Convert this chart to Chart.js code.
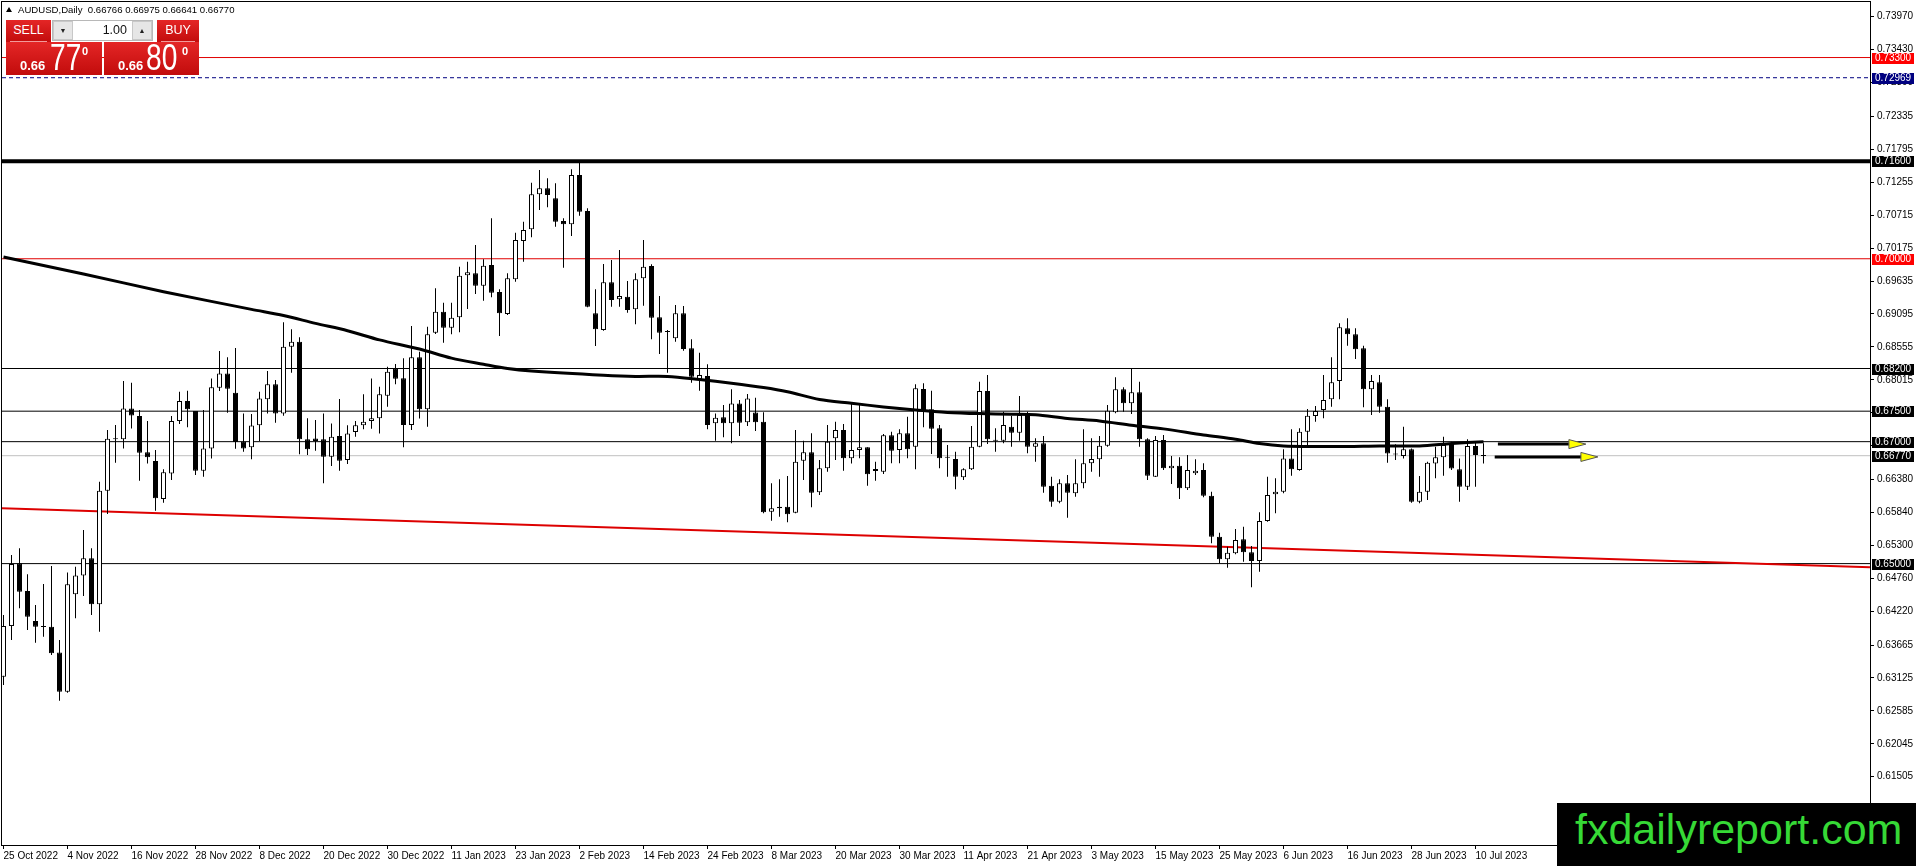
<!doctype html>
<html><head><meta charset="utf-8">
<script src="https://cdn.jsdelivr.net/npm/chart.js@4.4.0/dist/chart.umd.min.js"></script>
<style>
* { margin:0; padding:0; box-sizing:border-box; }
html,body { width:1916px; height:866px; overflow:hidden; background:#fff;
  font-family:'Liberation Sans',Arial,sans-serif; }
#wrap { position:relative; width:1916px; height:866px; }
#c { position:absolute; left:0; top:0; }
.hdr { position:absolute; left:6px; top:4px; font-size:9.6px; line-height:12px; color:#000; white-space:pre; }
.hdr .tri { display:inline-block; width:0; height:0; border-left:3.5px solid transparent;
  border-right:3.5px solid transparent; border-bottom:5px solid #000; margin-right:6px; vertical-align:1px; }
.red { background:linear-gradient(#e42626,#c20c0c); color:#fff; position:absolute; }
.tab { top:20px; height:22px; font-size:12.5px; text-align:center; line-height:21px; }
.tab::after { content:''; position:absolute; left:4px; right:4px; bottom:0; height:1px; background:#f29a9a; }
.lot { position:absolute; left:52px; top:20px; width:101px; height:21px; background:#fff; border:1px solid #b8b8b8; }
.lot .btn { position:absolute; top:0; width:20px; height:19px; background:#e6e6e6; border:1px solid #c8c8c8;
  font-size:7px; line-height:17px; text-align:center; color:#222; }
.lot .val { position:absolute; right:25px; top:2px; font-size:12.5px; line-height:14px; color:#111; }
.px { top:42px; height:33px; }
.px span { position:absolute; white-space:nowrap; }
.px .sm { font-size:13px; font-weight:bold; line-height:13px; top:17px; }
.px .big { font-size:37px; line-height:37px; top:-3px; transform:scaleX(0.76); transform-origin:left top; }
.px .sup { font-size:11px; font-weight:bold; line-height:11px; top:4px; }
.wm { position:absolute; left:1557px; top:803px; width:359px; height:63px; background:#000; }
.wm span { position:absolute; left:18px; top:5px; font-size:43px; line-height:43px; color:#36d936; white-space:nowrap; }
</style></head>
<body><div id="wrap">
<canvas id="c" width="1916" height="866"></canvas>
<div class="hdr"><span class="tri"></span>AUDUSD,Daily  0.66766 0.66975 0.66641 0.66770</div>
<div class="red tab" style="left:6px;width:45px">SELL</div>
<div class="lot"><div class="btn" style="left:0">&#9660;</div><div class="val">1.00</div><div class="btn" style="right:0">&#9650;</div></div>
<div class="red tab" style="left:157px;width:42px">BUY</div>
<div class="red px" style="left:6px;width:96px"><span class="sm" style="left:14px">0.66</span><span class="big" style="left:44px">77</span><span class="sup" style="left:76px">0</span></div>
<div class="red px" style="left:104px;width:95px"><span class="sm" style="left:14px">0.66</span><span class="big" style="left:42px">80</span><span class="sup" style="left:78px">0</span></div>
<div class="wm"><span>fxdailyreport.com</span></div>
</div>
<script>
// daily AUDUSD candles, bar 0 = 25 Oct 2022, last bar = 11 Jul 2023
const opens = [0.63145,0.63976,0.65004,0.64550,0.64058,0.63965,0.63965,0.63544,0.62899,0.64496,
  0.64807,0.65086,0.64332,0.66196,0.67049,0.67038,0.67546,0.67420,0.66825,0.66682,
  0.66059,0.66480,0.67338,0.67667,0.67502,0.66524,0.66890,0.67885,0.68120,0.67803,
  0.67000,0.66907,0.67268,0.67694,0.67940,0.67464,0.68558,0.68640,0.67038,0.67054,
  0.67038,0.66754,0.67093,0.66699,0.67158,0.67268,0.67339,0.67383,0.67754,0.68197,
  0.68039,0.67273,0.68383,0.67530,0.68788,0.69132,0.68870,0.69039,0.69728,0.69761,
  0.69558,0.69897,0.69455,0.69094,0.69662,0.70291,0.70482,0.71056,0.71155,0.70991,
  0.70619,0.70564,0.71374,0.70783,0.69105,0.68831,0.69613,0.69334,0.69378,0.69170,
  0.69679,0.69881,0.69039,0.68804,0.68695,0.69105,0.68531,0.68022,0.68077,0.67301,
  0.67399,0.67301,0.67628,0.67317,0.67480,0.67328,0.65852,0.65934,0.65934,0.65835,
  0.66688,0.66825,0.66169,0.66563,0.67055,0.67191,0.66727,0.66863,0.66907,0.66552,
  0.66508,0.67104,0.66863,0.67137,0.66918,0.67864,0.67530,0.67219,0.66738,0.66716,
  0.66415,0.66546,0.66918,0.67831,0.67016,0.67016,0.67246,0.67147,0.67465,0.66918,
  0.66973,0.66278,0.66016,0.66317,0.66152,0.66317,0.66645,0.66710,0.66934,0.67481,
  0.67858,0.67629,0.67809,0.67038,0.66426,0.67027,0.66563,0.66606,0.66234,0.66481,
  0.66535,0.66114,0.65442,0.65070,0.65168,0.65398,0.65185,0.65043,0.65699,0.66136,
  0.66180,0.66726,0.66535,0.67164,0.67421,0.67519,0.67694,0.67995,0.68859,0.68760,
  0.68531,0.67858,0.67973,0.67574,0.66792,0.66765,0.66874,0.66016,0.66180,0.66644,
  0.66743,0.66972,0.66546,0.66262,0.66929,0.66766];
const highs = [0.64157,0.65141,0.65250,0.64824,0.64320,0.64665,0.64960,0.63747,0.64856,0.64949,
  0.65551,0.65250,0.66344,0.67191,0.67273,0.67995,0.67967,0.67519,0.67338,0.66863,
  0.66546,0.67420,0.67820,0.67836,0.67502,0.67519,0.68038,0.68487,0.68383,0.68536,
  0.67464,0.67453,0.67820,0.68159,0.68011,0.68957,0.68842,0.68711,0.67383,0.67355,
  0.67464,0.67300,0.67700,0.67268,0.67339,0.67776,0.68038,0.67902,0.68230,0.68274,
  0.68367,0.68897,0.68476,0.68886,0.69515,0.69280,0.69280,0.69870,0.69952,0.70225,
  0.69990,0.70663,0.69498,0.69761,0.70428,0.70608,0.71248,0.71456,0.71319,0.71237,
  0.70663,0.71467,0.71576,0.70827,0.69498,0.69914,0.69979,0.70143,0.69635,0.69761,
  0.70307,0.69908,0.69389,0.68831,0.69241,0.69225,0.68678,0.68460,0.68268,0.67464,
  0.67601,0.67858,0.67683,0.67782,0.67721,0.67481,0.66317,0.66382,0.66437,0.67191,
  0.67016,0.67137,0.66699,0.67273,0.67328,0.67290,0.67629,0.67629,0.66907,0.66672,
  0.67126,0.67164,0.67202,0.67410,0.67940,0.67957,0.67836,0.67273,0.66945,0.66836,
  0.66563,0.67257,0.67984,0.68093,0.67219,0.67492,0.67421,0.67749,0.67492,0.67055,
  0.67093,0.66426,0.66382,0.66453,0.66710,0.67202,0.67055,0.67093,0.67601,0.68055,
  0.67891,0.68203,0.67984,0.67055,0.67093,0.67109,0.66765,0.66743,0.66781,0.66710,
  0.66645,0.66180,0.65507,0.65278,0.65568,0.65606,0.65289,0.65841,0.66426,0.66398,
  0.66874,0.67202,0.67219,0.67536,0.67585,0.68093,0.68383,0.68941,0.69023,0.68859,
  0.68574,0.68093,0.68093,0.67694,0.66956,0.67246,0.66890,0.66437,0.66672,0.66918,
  0.67082,0.67000,0.66726,0.67038,0.67000,0.66975];
const lows = [0.63009,0.63746,0.64266,0.63911,0.63703,0.63801,0.63500,0.62752,0.62883,0.64102,
  0.64468,0.64157,0.63883,0.65813,0.66655,0.66890,0.67218,0.66360,0.66644,0.65868,
  0.65999,0.66371,0.67289,0.67235,0.66453,0.66426,0.66726,0.67831,0.67475,0.66885,
  0.66836,0.66710,0.67011,0.67464,0.67311,0.67426,0.68131,0.66792,0.66781,0.66852,
  0.66316,0.66601,0.66524,0.66634,0.67082,0.67202,0.67213,0.67136,0.67574,0.67940,
  0.66907,0.67191,0.67382,0.67246,0.68766,0.68624,0.68760,0.68793,0.69176,0.69422,
  0.69312,0.69367,0.68733,0.69077,0.69624,0.69952,0.70351,0.70799,0.70843,0.70526,
  0.69854,0.70373,0.70707,0.69203,0.68569,0.68820,0.69214,0.69214,0.69116,0.68924,
  0.69230,0.68678,0.68438,0.68131,0.68640,0.68492,0.67968,0.67836,0.67202,0.67016,
  0.67071,0.66973,0.67093,0.67257,0.67175,0.65825,0.65704,0.65770,0.65677,0.65825,
  0.66371,0.65923,0.66125,0.66508,0.66699,0.66524,0.66644,0.66727,0.66278,0.66360,
  0.66470,0.66645,0.66645,0.66727,0.66546,0.67235,0.66798,0.66563,0.66426,0.66218,
  0.66371,0.66535,0.66907,0.66962,0.66836,0.66973,0.66918,0.67016,0.66809,0.66672,
  0.66163,0.65934,0.65989,0.65753,0.66098,0.66234,0.66508,0.66426,0.66918,0.67465,
  0.67492,0.67454,0.66918,0.66371,0.66420,0.66535,0.66306,0.66060,0.66207,0.66453,
  0.66087,0.65332,0.65004,0.64933,0.65152,0.65032,0.64611,0.64868,0.65688,0.65824,
  0.66152,0.66442,0.66524,0.66934,0.67328,0.67383,0.67574,0.67694,0.68574,0.68356,
  0.67563,0.67437,0.67476,0.66655,0.66699,0.66726,0.65999,0.65988,0.66043,0.66398,
  0.66442,0.66535,0.66016,0.66207,0.66262,0.66641];
const closes = [0.63976,0.64993,0.64539,0.64129,0.63965,0.63960,0.63528,0.62899,0.64660,0.64807,
  0.65086,0.64332,0.66196,0.67049,0.67040,0.67546,0.67431,0.66819,0.66743,0.66070,
  0.66497,0.67338,0.67667,0.67530,0.66524,0.66890,0.67891,0.68120,0.67869,0.66994,
  0.66890,0.67267,0.67710,0.67940,0.67464,0.68558,0.68640,0.67038,0.66874,0.67011,
  0.66754,0.67082,0.66688,0.67136,0.67268,0.67328,0.67383,0.67776,0.68148,0.68033,
  0.67273,0.68383,0.67530,0.68760,0.69132,0.68870,0.69034,0.69722,0.69777,0.69558,
  0.69886,0.69444,0.69105,0.69679,0.70307,0.70471,0.71056,0.71155,0.71046,0.70608,
  0.70564,0.71374,0.70772,0.69214,0.68842,0.69613,0.69323,0.69389,0.69159,0.69662,
  0.69870,0.69034,0.68788,0.68800,0.69105,0.68520,0.68066,0.68093,0.67273,0.67394,
  0.67301,0.67628,0.67311,0.67710,0.67317,0.65841,0.65907,0.65907,0.65808,0.66672,
  0.66825,0.66163,0.66563,0.67000,0.67191,0.66727,0.66863,0.66907,0.66464,0.66519,
  0.67104,0.66852,0.67137,0.66874,0.67875,0.67519,0.67213,0.66727,0.66740,0.66426,
  0.66546,0.66918,0.67831,0.67038,0.67020,0.67273,0.67147,0.67437,0.66918,0.66973,
  0.66262,0.66016,0.66317,0.66163,0.66317,0.66645,0.66716,0.66934,0.67508,0.67858,
  0.67629,0.67809,0.67038,0.66442,0.67027,0.66563,0.66606,0.66234,0.66535,0.66524,
  0.66114,0.65442,0.65070,0.65179,0.65387,0.65185,0.65043,0.65699,0.66125,0.66180,
  0.66726,0.66546,0.67164,0.67426,0.67503,0.67683,0.67973,0.68875,0.68760,0.68514,
  0.67858,0.67995,0.67574,0.66808,0.66790,0.66874,0.66016,0.66180,0.66655,0.66743,
  0.66945,0.66562,0.66262,0.66929,0.66781,0.66770];

// 200-day moving average, read at these bars
const maBars = [0,10,20,31,35,39,43,47,52,56,60,63,66,75,79,83,87,91,95,98,102,106,110,114,118,122,
  126,129,133,137,141,145,150,154,157,160,164,168,172,177,181,185];
const maValues = [0.7003,0.6975,0.6946,0.6917,0.6907,0.6894,0.6882,0.6867,0.6852,0.6837,0.6827,0.6820,
  0.6816,0.6809,0.6807,0.6807,0.6802,0.6796,0.6789,0.6782,0.6769,0.6763,0.6757,0.6752,0.6748,0.6746,
  0.6745,0.6744,0.6738,0.6734,0.6727,0.6721,0.6711,0.6704,0.6697,0.6693,0.6692,0.6692,0.6693,0.6693,
  0.6697,0.6700];

// red trend line
const trendBars = [-0.44, 233.31];
const trendPrices = [0.6591, 0.6494];

// horizontal levels and their axis tags
const levelPrices = [0.7330, 0.72969, 0.7160, 0.7000, 0.6820, 0.6750, 0.6700, 0.6677, 0.6500];
const levelKinds = ['red', 'ask', 'major', 'red', 'line', 'line', 'line', 'bid', 'line'];

// arrows drawn to the right of the last bar
const arrowPrices = [0.6696, 0.6675];
const arrowFrom = [186.8, 186.4];
const arrowTo = [197.8, 199.3];

const yTicks = [0.7397,0.7343,0.7289,0.72335,0.71795,0.71255,0.70715,0.70175,0.69635,0.69095,0.68555,
  0.68015,0.67475,0.66935,0.6638,0.6584,0.653,0.6476,0.6422,0.63665,0.63125,0.62585,0.62045,0.61505];
const dateBars = [0,8,16,24,32,40,48,56,64,72,80,88,96,104,112,120,128,136,144,152,160,168,176,184];
const dateLabels = ['25 Oct 2022','4 Nov 2022','16 Nov 2022','28 Nov 2022','8 Dec 2022','20 Dec 2022',
  '30 Dec 2022','11 Jan 2023','23 Jan 2023','2 Feb 2023','14 Feb 2023','24 Feb 2023','8 Mar 2023',
  '20 Mar 2023','30 Mar 2023','11 Apr 2023','21 Apr 2023','3 May 2023','15 May 2023','25 May 2023',
  '6 Jun 2023','16 Jun 2023','28 Jun 2023','10 Jul 2023'];

const X_MIN = -0.1875, X_MAX = 233.3125, Y_MIN = 0.60385, Y_MAX = 0.74211;
const KIND = {
  red:   { color:'#e00000', width:1, dash:[],    tag:'#ff0000' },
  ask:   { color:'#000080', width:1, dash:[4,3], tag:'#000080' },
  major: { color:'#000000', width:4, dash:[],    tag:'#000000' },
  line:  { color:'#000000', width:1, dash:[],    tag:'#000000' },
  bid:   { color:'#c0c0c0', width:1, dash:[],    tag:'#000000' }
};

Chart.defaults.font.family = "'Liberation Sans', Arial, sans-serif";
Chart.defaults.font.size = 10;
Chart.defaults.color = '#000';

const up = opens.map((o, i) => closes[i] >= o);
const datasets = [
  { type:'line', order:0, data: maBars.map((b, i) => ({ x:b, y:maValues[i] })),
    borderColor:'#000', borderWidth:3, pointRadius:0, tension:0.3 },
  { type:'bar', order:1, grouped:false, data: opens.map((o, i) => ({ x:i, y:[o, closes[i]] })),
    barThickness:5, minBarLength:1, borderWidth:1, borderColor:'#000', borderSkipped:false, inflateAmount:0,
    backgroundColor: up.map(u => u ? '#fff' : '#000') },
  { type:'bar', order:2, grouped:false, data: lows.map((l, i) => ({ x:i, y:[l, highs[i]] })),
    barThickness:1, borderWidth:0, inflateAmount:0, backgroundColor:'#000' },
  { type:'line', order:3, data: trendBars.map((b, i) => ({ x:b, y:trendPrices[i] })),
    borderColor:'#dd0000', borderWidth:2, pointRadius:0 }
];
levelPrices.forEach((p, k) => {
  const s = KIND[levelKinds[k]];
  datasets.push({ type:'line', order:4, data:[{ x:X_MIN, y:p }, { x:X_MAX, y:p }],
    borderColor:s.color, borderWidth:s.width, borderDash:s.dash, pointRadius:0 });
});

// keep the plot box fixed: no extra room for half tick labels
function noPad(s) { s.paddingTop = 0; s.paddingBottom = 0; s.paddingLeft = 0; s.paddingRight = 0; }

const overlay = {
  id: 'overlay',
  afterDraw(chart) {
    const { ctx, chartArea: a, scales: { x, y } } = chart;
    ctx.save();
    ctx.strokeStyle = '#000'; ctx.lineWidth = 1;
    ctx.strokeRect(a.left - 0.5, a.top - 0.5, a.right - a.left + 1, a.bottom - a.top + 1);
    arrowPrices.forEach((p, k) => {
      const py = y.getPixelForValue(p), x0 = x.getPixelForValue(arrowFrom[k]), x1 = x.getPixelForValue(arrowTo[k]);
      ctx.lineWidth = 3; ctx.strokeStyle = '#000';
      ctx.beginPath(); ctx.moveTo(x0, py); ctx.lineTo(x1 - 16, py); ctx.stroke();
      ctx.beginPath(); ctx.moveTo(x1 - 17, py - 4.5); ctx.lineTo(x1, py); ctx.lineTo(x1 - 17, py + 4.5); ctx.closePath();
      ctx.fillStyle = '#ffff00'; ctx.fill(); ctx.lineWidth = 1; ctx.strokeStyle = '#555'; ctx.stroke();
    });
    ctx.font = "10px 'Liberation Sans', Arial, sans-serif";
    ctx.textBaseline = 'middle';
    levelPrices.forEach((p, k) => {
      const py = Math.round(y.getPixelForValue(p));
      ctx.fillStyle = KIND[levelKinds[k]].tag;
      ctx.fillRect(a.right + 2, py - 5, 42, 11);
      ctx.fillStyle = '#fff';
      ctx.fillText(p.toFixed(5), a.right + 5, py + 0.5);
    });
    ctx.restore();
  }
};

new Chart(document.getElementById('c'), {
  type: 'bar',
  data: { datasets },
  options: {
    responsive:false, animation:false, devicePixelRatio:1,
    layout: { padding: { left:2, top:2, right:0, bottom:0 } },
    plugins: { legend:{ display:false }, tooltip:{ enabled:false } },
    scales: {
      x: { type:'linear', min:X_MIN, max:X_MAX, offset:false,
        afterFit: s => { s.height = 21; noPad(s); },
        afterBuildTicks: s => { s.ticks = dateBars.map(v => ({ value:v })); },
        grid: { offset:false, drawOnChartArea:false, tickLength:4, color:'#000' },
        border: { display:true, color:'#000' },
        ticks: { align:'start', padding:1, autoSkip:false, maxRotation:0, color:'#000',
          callback: (v, i) => dateLabels[i] } },
      y: { type:'linear', position:'right', min:Y_MIN, max:Y_MAX, beginAtZero:false,
        afterFit: s => { s.width = 46; noPad(s); },
        afterBuildTicks: s => { s.ticks = yTicks.map(v => ({ value:v })); },
        grid: { drawOnChartArea:false, tickLength:4, color:'#000' },
        border: { display:true, color:'#000' },
        ticks: { padding:3, color:'#000', callback: v => v.toFixed(5) } }
    }
  },
  plugins: [overlay]
});
</script>
</body></html>
